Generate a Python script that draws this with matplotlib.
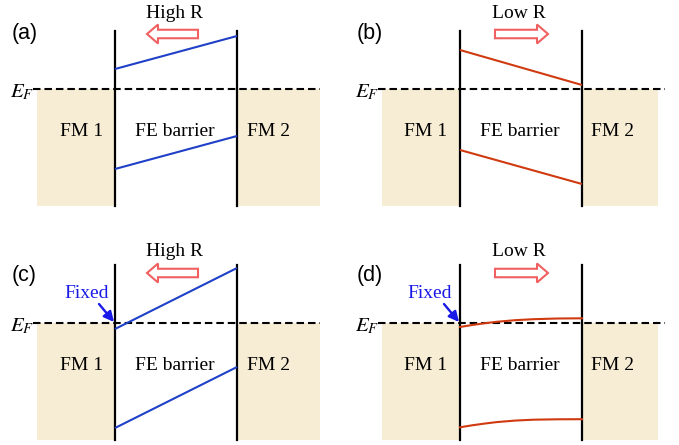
import matplotlib
matplotlib.use("Agg")
import matplotlib.pyplot as plt
import matplotlib.patches as mpatches

# ---- data (band energies relative to E_F, in pixels upward) ----
panel_tags = ['(a)', '(b)', '(c)', '(d)']
resistance_labels = ['High R', 'Low R', 'High R', 'Low R']
polarization_dir = [-1, 1, -1, 1]          # -1: pointing left, +1: pointing right
region_labels = ['FM 1', 'FE barrier', 'FM 2']
band_color = ['#2040C8', '#D03A10', '#2040C8', '#D03A10']
fixed_flags = [False, False, True, True]
# straight bands (panels a, b, c): [left, right]
upper_band = [[20, 53], [39, 4], [-6, 55], None]
lower_band = [[-80, -47], [-61, -95], [-105, -44], None]
# curved bands in panel d
curve_frac = [0.0, 0.1, 0.2, 0.3, 0.45, 0.6, 0.8, 1.0]
d_upper = [-4.0, -2.0, -0.3, 1.2, 2.8, 3.8, 4.5, 4.7]
d_lower = [-104.3, -102.3, -100.6, -99.1, -97.6, -96.7, -96.3, -96.2]

W, H = 679, 445
fig = plt.figure(figsize=(W / 100, H / 100), dpi=100)
ax = fig.add_axes([0, 0, 1, 1])
ax.set_xlim(0, W)
ax.set_ylim(H, 0)
ax.axis('off')
plt.rcParams['mathtext.fontset'] = 'stix'

serif = 'Liberation Serif'
sans = 'Liberation Sans'
origins = [(0, 0), (345, 0), (0, 234), (345, 234)]
beige = '#F7ECD4'

for i, (ox, oy) in enumerate(origins):
    ef = oy + 89
    xl, xr = ox + 115, ox + 237
    top, bot = oy + 31, oy + 206
    fm2_right = ox + (320 if i % 2 == 0 else 313)
    # FM boxes
    ax.add_patch(mpatches.Rectangle((ox + 37, ef), xl - (ox + 37), bot - ef,
                                    facecolor=beige, edgecolor='none', zorder=1))
    ax.add_patch(mpatches.Rectangle((xr, ef), fm2_right - xr, bot - ef,
                                    facecolor=beige, edgecolor='none', zorder=1))
    # Fermi level
    ax.plot([ox + 33, ox + 320], [ef, ef], color='black', lw=1.5,
            linestyle=(0, (3.6, 1.9)), zorder=3)
    # barrier walls
    for xv in (xl, xr):
        ax.plot([xv, xv], [top, bot], color='black', lw=1.6, zorder=4)
    # bands
    if upper_band[i] is not None:
        for band in (upper_band[i], lower_band[i]):
            ax.plot([xl, xr], [ef - band[0], ef - band[1]], color=band_color[i],
                    lw=1.5, zorder=5, solid_capstyle='butt')
    else:
        xs = [xl + f * (xr - xl) for f in curve_frac]
        ax.plot(xs, [ef - v for v in d_upper], color=band_color[i], lw=1.5, zorder=5)
        ax.plot(xs, [ef - v for v in d_lower], color=band_color[i], lw=1.5, zorder=5)
    # region labels
    ty = oy + 132
    for lab, cx in zip(region_labels, (82, 175, 269) if i % 2 == 0 else (81, 175, 268)):
        ax.text(ox + cx, ty, lab, fontsize=14, family=serif, ha='center', va='center', zorder=6)
    # panel tag
    ax.text(ox + 12, oy + (33 if i < 2 else 41), panel_tags[i], fontsize=15.5, family=sans,
            ha='left', va='center')
    # E_F
    ax.text(ox + 34, ef + 3, r'$E_F$', fontsize=15, ha='right', va='center')
    # resistance label and polarization arrow
    ry = oy + (14 if i < 2 else 18)
    ay = oy + (34 if i < 2 else 39)
    ax.text(ox + 174, ry, resistance_labels[i], fontsize=14, family=serif,
            ha='center', va='center')
    if polarization_dir[i] < 0:
        x0, dx = ox + 198, -51
    else:
        x0, dx = ox + 150, 53
    ax.add_patch(mpatches.FancyArrow(x0, ay, dx, 0, width=8.5, head_width=19,
                                     head_length=11, length_includes_head=True,
                                     facecolor='white', edgecolor='#F06060', lw=1.5,
                                     zorder=6))
    # Fixed annotation
    if fixed_flags[i]:
        fx = ox + (87 if i == 2 else 85)
        ax.text(fx, oy + 59, 'Fixed', fontsize=14, family=serif, color='#1A1AE6',
                ha='center', va='center')
        ax.annotate('', xy=(xl - 1, ef - 1), xytext=(xl - 16, ef - 19),
                    arrowprops=dict(arrowstyle='-|>', color='#1A1AE6', lw=1.7,
                                    mutation_scale=15, shrinkA=0, shrinkB=0), zorder=7)

fig.savefig('out.png', dpi=100)
